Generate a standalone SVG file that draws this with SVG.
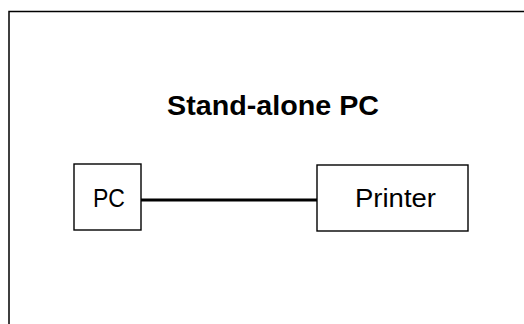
<svg xmlns="http://www.w3.org/2000/svg" width="524" height="324" viewBox="0 0 524 324">
  <style>
    .frame { fill: none; stroke: #000; stroke-width: 1.5; }
    .box { fill: #fff; stroke: #000; stroke-width: 1.4; }
    .label { font-family: "Liberation Sans", Arial, sans-serif; font-size: 25px; fill: #000; }
    .title { font-family: "Liberation Sans", Arial, sans-serif; font-size: 28px; font-weight: bold; fill: #000; }
    .wire { stroke: #000; stroke-width: 3; fill: none; }
  </style>
  <rect width="524" height="324" fill="#fff"/>
  <!-- outer frame, open on the right and bottom -->
  <path class="frame" d="M9,324 V11.5 H524"/>
  <text class="title" x="167" y="115" textLength="212" lengthAdjust="spacingAndGlyphs">Stand-alone PC</text>
  <g id="connectors">
    <line class="wire" x1="141" y1="200" x2="317" y2="200"/>
  </g>
  <g id="pc">
    <rect class="box" x="74" y="164" width="67" height="66"/>
    <text class="label" x="93" y="207" textLength="32" lengthAdjust="spacingAndGlyphs">PC</text>
  </g>
  <g id="printer">
    <rect class="box" x="317" y="165" width="151" height="66"/>
    <text class="label" x="355" y="207" textLength="81" lengthAdjust="spacingAndGlyphs">Printer</text>
  </g>
</svg>
